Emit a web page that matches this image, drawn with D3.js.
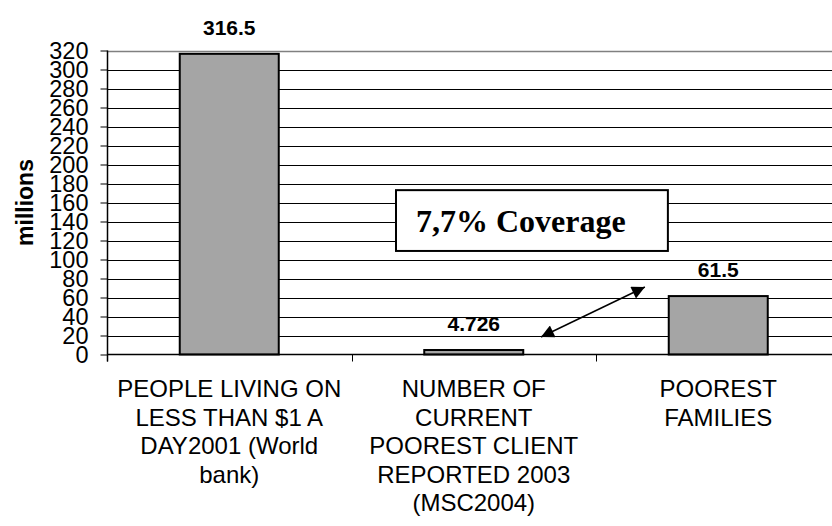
<!DOCTYPE html>
<html>
<head>
<meta charset="utf-8">
<script src="https://cdn.jsdelivr.net/npm/d3@7"></script>
<style>
  html, body { margin: 0; padding: 0; background: #fff; }
  svg { display: block; }
  svg text { font-family: Arial, "Liberation Sans", sans-serif; }
  svg text.serif { font-family: "Times New Roman", "Liberation Serif", serif; }
</style>
</head>
<body>
<svg id="chart" width="832" height="526"></svg>
<script>
// ---- data ----
const categories = ["cat1", "cat2", "cat3"];
const categoryLabels = [
  ["PEOPLE LIVING ON", "LESS THAN $1 A", "DAY2001 (World", "bank)"],
  ["NUMBER OF", "CURRENT", "POOREST CLIENT", "REPORTED 2003", "(MSC2004)"],
  ["POOREST", "FAMILIES"]
];
const values = [316.5, 4.726, 61.5];
const valueLabels = ["316.5", "4.726", "61.5"];
const yTicks = [0, 20, 40, 60, 80, 100, 120, 140, 160, 180, 200, 220, 240, 260, 280, 300, 320];
const yTitle = "millions";
const annotationText = "7,7% Coverage";
// annotation positions in data units (x: category index space, y: millions)
const boxX = [1.182, 2.294];
const boxY = [173, 109];
const arrowFrom = [1.775, 18.4];
const arrowTo = [2.2, 71];

// ---- layout ----
const svg = d3.select("#chart");
const plotLeft = 107, step = 244.5, plotTop = 50.5, zeroY = 354.5, rightEdge = 832;

const x = d3.scaleBand()
  .domain(categories)
  .range([plotLeft, plotLeft + step * categories.length])
  .paddingInner(1 - 99 / step)
  .paddingOuter((1 - 99 / step) / 2);
const xi = d3.scaleLinear().domain([0, categories.length]).range([plotLeft, plotLeft + step * categories.length]);
const y = d3.scaleLinear().domain([0, 320]).range([zeroY, plotTop]);

// gridlines
svg.append("g").selectAll("line")
  .data(yTicks.filter(t => t > 0 && t < 320))
  .join("line")
  .attr("x1", plotLeft).attr("x2", rightEdge)
  .attr("y1", d => Math.round(y(d)) + 0.5).attr("y2", d => Math.round(y(d)) + 0.5)
  .attr("stroke", "#000").attr("stroke-width", 1);

// plot area top border
svg.append("line")
  .attr("x1", plotLeft).attr("x2", rightEdge)
  .attr("y1", Math.round(y(320)) + 0.5).attr("y2", Math.round(y(320)) + 0.5)
  .attr("stroke", "#808080").attr("stroke-width", 1.5);

// bars
svg.append("g").selectAll("rect")
  .data(values)
  .join("rect")
  .attr("x", (d, i) => x(categories[i]))
  .attr("y", d => y(d))
  .attr("width", x.bandwidth())
  .attr("height", d => y(0) - y(d))
  .attr("fill", "#a5a5a5")
  .attr("stroke", "#000")
  .attr("stroke-width", 2);

// x axis baseline
svg.append("line")
  .attr("x1", plotLeft).attr("x2", rightEdge)
  .attr("y1", y(0)).attr("y2", y(0))
  .attr("stroke", "#000").attr("stroke-width", 1.5);

// category boundary ticks
svg.append("g").selectAll("line")
  .data(d3.range(categories.length + 1))
  .join("line")
  .attr("x1", d => Math.round(xi(d)) + 0.5).attr("x2", d => Math.round(xi(d)) + 0.5)
  .attr("y1", y(0)).attr("y2", y(0) + 7)
  .attr("stroke", "#000").attr("stroke-width", 1);

// y axis
const yAxis = d3.axisLeft(y).tickValues(yTicks).tickSize(7).tickPadding(12).tickFormat(d3.format("d"));
const ya = svg.append("g").attr("transform", `translate(${plotLeft + 0.5},0)`).call(yAxis);
ya.select(".domain").remove();
ya.selectAll(".tick line").attr("stroke", "#000");
ya.selectAll(".tick text")
  .attr("font-size", 23.5)
  .attr("fill", "#000");
svg.append("line")
  .attr("x1", plotLeft + 0.5).attr("x2", plotLeft + 0.5)
  .attr("y1", plotTop).attr("y2", y(0) + 7)
  .attr("stroke", "#000").attr("stroke-width", 1.5);

// y title
svg.append("text")
  .attr("transform", `translate(33,${(plotTop + zeroY) / 2}) rotate(-90)`)
  .attr("text-anchor", "middle")
  .attr("font-size", 23)
  .attr("font-weight", "bold")
  .text(yTitle);

// value labels
svg.append("g").selectAll("text")
  .data(values)
  .join("text")
  .attr("x", (d, i) => x(categories[i]) + x.bandwidth() / 2)
  .attr("y", d => y(d) - 19)
  .attr("text-anchor", "middle")
  .attr("font-size", 21)
  .attr("font-weight", "bold")
  .text((d, i) => valueLabels[i]);

// category labels
const cl = svg.append("g").selectAll("text")
  .data(categoryLabels)
  .join("text")
  .attr("x", (d, i) => x(categories[i]) + x.bandwidth() / 2)
  .attr("y", 397)
  .attr("text-anchor", "middle")
  .attr("font-size", 24);
cl.selectAll("tspan")
  .data((d, i) => d.map(s => ({ s, cx: x(categories[i]) + x.bandwidth() / 2 })))
  .join("tspan")
  .attr("x", d => d.cx)
  .attr("dy", (d, j) => j === 0 ? 0 : 28.5)
  .text(d => d.s);

// annotation box
svg.append("rect")
  .attr("x", xi(boxX[0])).attr("y", y(boxY[0]))
  .attr("width", xi(boxX[1]) - xi(boxX[0]))
  .attr("height", y(boxY[1]) - y(boxY[0]))
  .attr("fill", "#fff").attr("stroke", "#000").attr("stroke-width", 2);
svg.append("text")
  .attr("class", "serif")
  .attr("x", xi(boxX[0]) + 20)
  .attr("y", y(boxY[0]) + 42)
  .attr("text-anchor", "start")
  .attr("font-weight", "bold")
  .attr("font-size", 32)
  .text(annotationText);

// arrow
const defs = svg.append("defs");
defs.append("marker")
  .attr("id", "ah").attr("viewBox", "0 0 10 10")
  .attr("refX", 10).attr("refY", 5)
  .attr("markerWidth", 16).attr("markerHeight", 13)
  .attr("markerUnits", "userSpaceOnUse")
  .attr("orient", "auto-start-reverse")
  .append("path").attr("d", "M0,0 L10,5 L0,10 Z").attr("fill", "#000");
svg.append("line")
  .attr("x1", xi(arrowFrom[0])).attr("y1", y(arrowFrom[1]))
  .attr("x2", xi(arrowTo[0])).attr("y2", y(arrowTo[1]))
  .attr("stroke", "#000").attr("stroke-width", 1.5)
  .attr("marker-start", "url(#ah)")
  .attr("marker-end", "url(#ah)");
</script>
</body>
</html>
